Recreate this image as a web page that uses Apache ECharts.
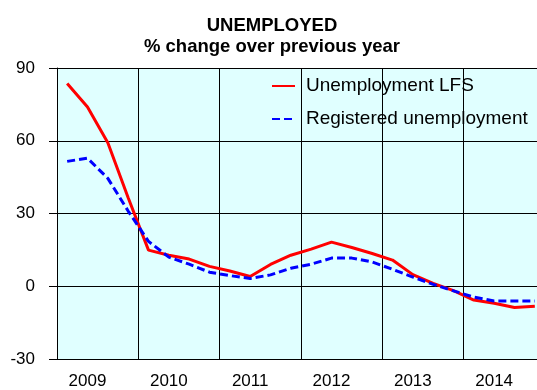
<!DOCTYPE html>
<html>
<head>
<meta charset="utf-8">
<title>Unemployed</title>
<script src="https://cdn.jsdelivr.net/npm/echarts@6/dist/echarts.min.js"></script>
<style>
  html, body { margin: 0; padding: 0; background: #fff; }
  #chart { width: 537px; height: 390px; }
</style>
</head>
<body>
<div id="chart"></div>
<script>
// quarters 2009Q1 .. 2014Q4
const years = ['2009', '2010', '2011', '2012', '2013', '2014']
const quarters = []
years.forEach(y => {
  for (let q = 1; q <= 4; q++) quarters.push(y + 'Q' + q)
})

const lfs = [
  83.6, 73.9, 59.2, 36.5,
  14.9, 12.8, 11.2, 8.2,
  6.3, 4.0, 9.0, 12.8,
  15.3, 18.2, 16.0, 13.5,
  10.8, 4.8, 1.2, -1.8,
  -5.7, -7.0, -8.8, -8.2
]
const registered = [
  51.5, 52.8, 44.5, 31.0,
  18.5, 12.0, 9.1, 5.8,
  4.4, 3.2, 4.7, 7.4,
  9.1, 11.6, 11.6, 10.0,
  7.0, 3.8, 0.8, -1.9,
  -4.5, -6.1, -6.1, -6.1
]

const font = 'Liberation Sans, Arial, sans-serif'

const chart = echarts.init(document.getElementById('chart'))

const option = {
  animation: false,
  title: {
    text: 'UNEMPLOYED',
    subtext: '% change over previous year',
    left: 272,
    top: 16,
    padding: 0,
    itemGap: 2,
    textAlign: 'center',
    textStyle: { fontFamily: font, fontSize: 18.5, fontWeight: 'bold', color: '#000' },
    subtextStyle: { fontFamily: font, fontSize: 18.5, fontWeight: 'bold', color: '#000' }
  },
  legend: {
    orient: 'vertical',
    left: 271,
    top: 76,
    padding: 0,
    itemWidth: 23,
    itemHeight: 14,
    itemGap: 13,
    itemStyle: { opacity: 0 },
    textStyle: { fontFamily: font, fontSize: 19, color: '#000', lineHeight: 20, padding: [0, 0, 0, 6] },
    data: ['Unemployment LFS', 'Registered unemployment']
  },
  // plot runs past the right edge, like the original
  grid: {
    left: 57,
    top: 68,
    width: 488,
    height: 291,
    outerBoundsMode: 'none',
    containLabel: false,
    show: true,
    backgroundColor: '#e0ffff',
    borderWidth: 0
  },
  xAxis: {
    type: 'category',
    data: quarters,
    boundaryGap: true,
    axisLine: { lineStyle: { color: '#000', width: 1 } },
    axisTick: { show: false },
    axisLabel: {
      interval: (i) => i % 4 === 1,
      formatter: (v) => v.slice(0, 4),
      margin: 14,
      fontFamily: font,
      fontSize: 17,
      color: '#000'
    },
    splitLine: {
      show: true,
      interval: (i) => i % 4 === 0,
      lineStyle: { color: '#000', width: 1 }
    }
  },
  yAxis: {
    type: 'value',
    min: -30,
    max: 90,
    interval: 30,
    axisLine: { show: true, lineStyle: { color: '#000', width: 1 } },
    axisTick: { show: true, length: 8, lineStyle: { color: '#000' } },
    axisLabel: { margin: 22, fontFamily: font, fontSize: 17, color: '#000' },
    splitLine: { show: true, lineStyle: { color: '#000', width: 1 } }
  },
  series: [
    {
      name: 'Unemployment LFS',
      type: 'line',
      data: lfs,
      symbol: 'none',
      z: 3,
      itemStyle: { color: '#ff0000' },
      lineStyle: { color: '#ff0000', width: 3 }
    },
    {
      name: 'Registered unemployment',
      type: 'line',
      data: registered,
      symbol: 'none',
      z: 4,
      itemStyle: { color: '#0000ff' },
      lineStyle: { color: '#0000ff', width: 3, type: [8, 4] }
    }
  ]
}

chart.setOption(option)
</script>
</body>
</html>
